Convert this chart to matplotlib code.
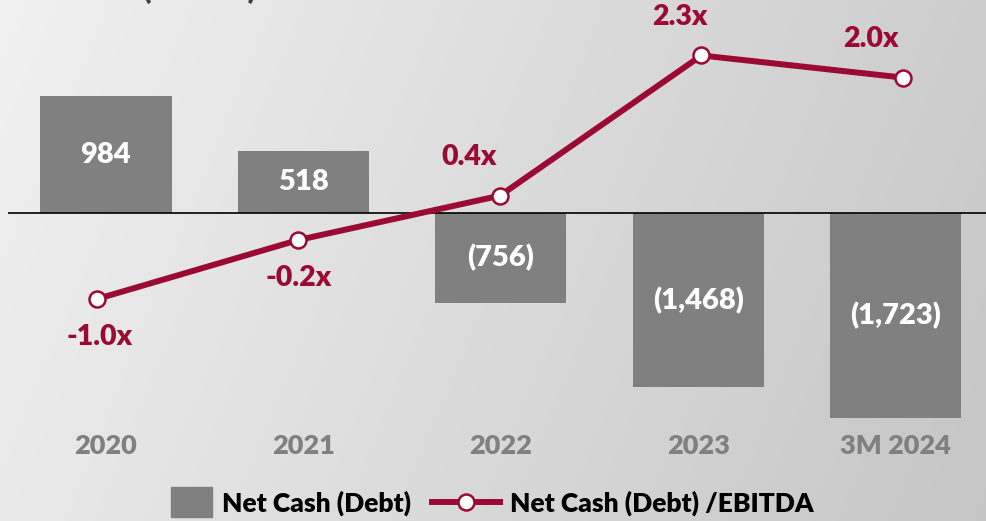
import numpy as np
import matplotlib
matplotlib.use("Agg")
import matplotlib.pyplot as plt
from matplotlib.transforms import blended_transform_factory
from matplotlib.patches import Rectangle
from matplotlib.lines import Line2D

categories = ["2020", "2021", "2022", "2023", "3M 2024"]
net_cash = [984, 518, -756, -1468, -1723]
net_cash_labels = ["984", "518", "(756)", "(1,468)", "(1,723)"]
leverage = [-1.0, -0.2, 0.4, 2.3, 2.0]
leverage_labels = ["-1.0x", "-0.2x", "0.4x", "2.3x", "2.0x"]

W, H = 987, 521
plt.rcParams['font.family'] = ['Lato', 'DejaVu Sans']
FW = 'heavy'
fig = plt.figure(figsize=(W / 100, H / 100), dpi=100)

# background gradient
bg = fig.add_axes([0, 0, 1, 1], zorder=-10)
xx, yy = np.meshgrid(np.linspace(0, 1, 300), np.linspace(0, 1, 200))
val = 0.945 - 0.14 * xx - 0.03 * yy
bg.imshow(np.dstack([val, val, val]), aspect='auto', extent=[0, 1, 0, 1], origin='upper')
bg.axis('off')

crimson = '#9b0a33'
bar_gray = '#808080'

def fx(px):
    return px / W

def fy(py):
    return 1 - py / H

ax_left, ax_top, ax_bot = 8, 0, 430
ax = fig.add_axes([fx(ax_left), fy(ax_bot), fx(W - ax_left), (ax_bot - ax_top) / H])
ax.patch.set_alpha(0)
x = np.arange(len(categories))
ax.bar(x, net_cash, width=0.665, color=bar_gray, zorder=2)
ax.set_xlim(-0.496, 4.463)
upp = 8.42
ax.set_ylim(-(ax_bot - 213) * upp, 213 * upp)
ax.axhline(0, color='black', lw=1.2, zorder=3)
for xi, v, lab in zip(x, net_cash, net_cash_labels):
    ax.text(xi, v / 2, lab, ha='center', va='center', color='white',
            fontsize=21, fontweight=FW, zorder=4)
ax.axis('off')

tr = blended_transform_factory(ax.transData, fig.transFigure)
for xi, c in zip(x, categories):
    ax.text(xi, fy(446), c, transform=tr, ha='center', va='center',
            color='#808080', fontsize=19.5, fontweight=FW)

ax2 = fig.add_axes(ax.get_position(), zorder=5)
ax2.patch.set_alpha(0)
ax2.set_xlim(-0.4417, 4.417)
ppu = 73.8
ax2.set_ylim(-(ax_bot - 225.2) / ppu, 225.2 / ppu)
ax2.plot(x, leverage, color=crimson, lw=4.3, marker='o', markersize=11.5,
         markerfacecolor='white', markeredgecolor=crimson, markeredgewidth=1.8,
         solid_capstyle='round', zorder=6)
offsets = [(3, -38), (0, -38), (-31, 39), (-22, 38), (-32, 39)]
for xi, v, lab, (dx, dy) in zip(x, leverage, leverage_labels, offsets):
    ax2.annotate(lab, (xi, v), xytext=(dx * 0.72, dy * 0.72), textcoords='offset points',
                 ha='center', va='center', color=crimson, fontsize=20.5, fontweight=FW)
ax2.axis('off')

# legend
fig.patches.append(Rectangle((fx(171), fy(517)), fx(41), (517 - 487) / H,
                             transform=fig.transFigure, color=bar_gray))
fig.text(fx(222), fy(503), "Net Cash (Debt)", ha='left', va='center',
         fontsize=19, fontweight=FW, color='black')
fig.lines.append(Line2D([fx(432), fx(500)], [fy(502), fy(502)], transform=fig.transFigure,
                        color=crimson, lw=4.3))
fig.lines.append(Line2D([fx(466)], [fy(502)], transform=fig.transFigure, marker='o',
                        markersize=11.5, markerfacecolor='white', markeredgecolor=crimson,
                        markeredgewidth=1.8, color=crimson))
fig.text(fx(510), fy(503), "Net Cash (Debt) /EBITDA", ha='left', va='center',
         fontsize=19, fontweight=FW, color='black')

# cut-off title at top
fig.text(fx(143), fy(-1), "(USD m)", ha='left', va='baseline', fontsize=22,
         fontweight=FW, color='#404040')

fig.savefig("out.png", dpi=100)
